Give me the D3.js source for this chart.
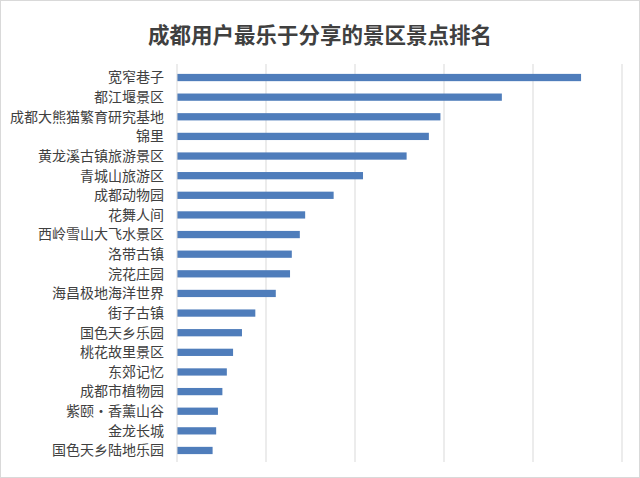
<!DOCTYPE html>
<html><head><meta charset="utf-8">
<script src="https://cdn.jsdelivr.net/npm/d3@7"></script>
<style>body{margin:0;background:#fff}</style>
</head><body>
<svg width="640" height="478"></svg>
<script>
var names = ["宽窄巷子","都江堰景区","成都大熊猫繁育研究基地","锦里","黄龙溪古镇旅游景区","青城山旅游区","成都动物园","花舞人间","西岭雪山大飞水景区","洛带古镇","浣花庄园","海昌极地海洋世界","街子古镇","国色天乡乐园","桃花故里景区","东郊记忆","成都市植物园","紫颐·香薰山谷","金龙长城","国色天乡陆地乐园"];
var values = [4.54,3.65,2.96,2.83,2.58,2.09,1.76,1.44,1.38,1.29,1.27,1.11,0.88,0.73,0.63,0.56,0.51,0.46,0.44,0.40];
var ticks = [0,1,2,3,4,5];

var svg = d3.select("svg");
svg.append("rect").attr("x",0.5).attr("y",0.5).attr("width",639).attr("height",477)
  .attr("fill","#fff").attr("stroke","#d9d9d9");
svg.append("text").attr("x",320).attr("y",43).attr("text-anchor","middle")
  .attr("font-family","Noto Sans CJK SC").attr("font-weight","bold").attr("font-size",21.5)
  .attr("fill","#404040").text("成都用户最乐于分享的景区景点排名");

var x = d3.scaleLinear().domain([0,5]).range([177,622]);
var y = d3.scaleBand().domain(names).range([68,460]).paddingInner(0.63).paddingOuter(0.3);

svg.selectAll(".grid").data(ticks.slice(1)).enter().append("line")
  .attr("x1",function(d){return x(d);}).attr("x2",function(d){return x(d);})
  .attr("y1",64).attr("y2",462).attr("stroke","#d9d9d9");

svg.selectAll(".bar").data(values).enter().append("rect")
  .attr("x",x(0)).attr("y",function(d,i){return y(names[i]);})
  .attr("width",function(d){return x(d)-x(0);}).attr("height",y.bandwidth())
  .attr("fill","#4f7dbb");

svg.append("line").attr("x1",x(0)).attr("x2",x(0)).attr("y1",64).attr("y2",462).attr("stroke","#d9d9d9");

svg.selectAll(".lab").data(names).enter().append("text")
  .attr("x",164).attr("y",function(d){return y(d)+y.bandwidth()/2;}).attr("dy","0.35em")
  .attr("text-anchor","end").attr("font-family","Noto Sans CJK SC").attr("font-size",14)
  .attr("fill","#404040").text(function(d){return d;});
</script>
</body></html>
